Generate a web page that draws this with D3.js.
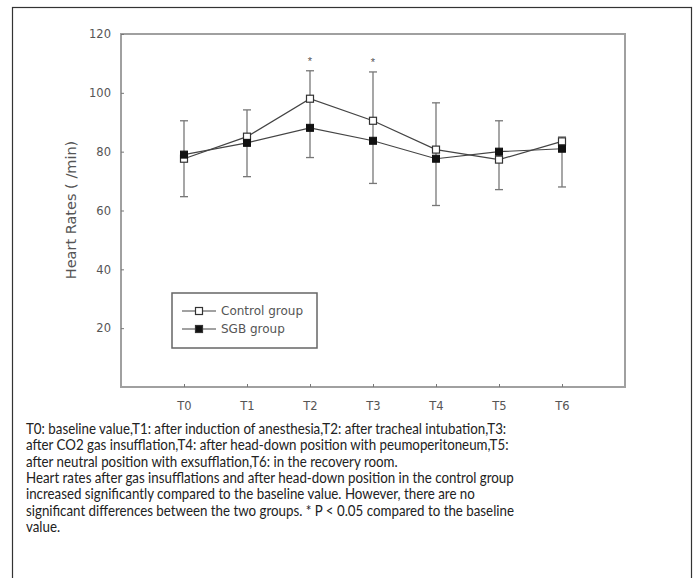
<!DOCTYPE html>
<html lang="en">
<head>
<meta charset="utf-8">
<title>Heart rates</title>
<script src="https://d3js.org/d3.v7.min.js"></script>
<style>
  body { margin: 0; background: #fff; }
  svg { display: block; }
  .tick text { font-family: "DejaVu Sans", sans-serif; font-size: 11.5px; fill: #555; }
  .legend text { font-family: "DejaVu Sans", sans-serif; font-size: 12px; fill: #555; }
  .caption { font-family: Lato, sans-serif; font-size: 14.4px; fill: #222; }
</style>
</head>
<body>
<div id="chart"></div>
<script>
// data
const times = ["T0", "T1", "T2", "T3", "T4", "T5", "T6"];
const control = [77.6, 85.1, 98, 90.5, 80.7, 77.3, 83.5];
const sgb = [79, 83, 88.1, 83.7, 77.6, 80, 81];
const errHigh = [90.5, 94.2, 107.5, 107.1, 96.6, 90.5, 85];
const errLow = [64.7, 71.5, 78, 69.2, 61.7, 67.1, 68];
const starred = ["T2", "T3"];
const yTicks = [20, 40, 60, 80, 100, 120];
const caption = [
  "T0: baseline value,T1: after induction of anesthesia,T2: after tracheal intubation,T3:",
  "after CO2 gas insufflation,T4: after head-down position with peumoperitoneum,T5:",
  "after neutral position with exsufflation,T6: in the recovery room.",
  "Heart rates after gas insufflations and after head-down position in the control group",
  "increased significantly compared to the baseline value. However, there are no",
  "significant differences between the two groups. * P < 0.05 compared to the baseline",
  "value."
];

const w = 697, h = 578;
const svg = d3.select("#chart").append("svg").attr("width", w).attr("height", h);

// outer frame
svg.append("rect")
   .attr("x", 12.5).attr("y", 7.5).attr("width", 679).attr("height", 600)
   .attr("fill", "none").attr("stroke", "#333").attr("stroke-width", 1.2);

const pLeft = 121, pRight = 625, pTop = 34, pBottom = 387;

const x = d3.scaleLinear().domain([-1, 7]).range([pLeft, pRight]);
const y = d3.scaleLinear().domain([0, 120]).range([pBottom, pTop]);

// plot box
svg.append("rect")
   .attr("x", pLeft).attr("y", pTop).attr("width", pRight - pLeft).attr("height", pBottom - pTop)
   .attr("fill", "none").attr("stroke", "#a0a0a0").attr("stroke-width", 2);

// y axis
const yAxis = svg.append("g")
   .attr("transform", `translate(${pLeft},0)`)
   .call(d3.axisLeft(y).tickValues(yTicks).tickSize(-3).tickPadding(10));
yAxis.select(".domain").remove();
yAxis.selectAll(".tick line").attr("stroke", "#777");

// x axis
const xAxis = svg.append("g")
   .attr("transform", `translate(0,${pBottom})`)
   .call(d3.axisBottom(x).tickValues(d3.range(times.length)).tickFormat(i => times[i]).tickSize(-3).tickPadding(15));
xAxis.select(".domain").remove();
xAxis.selectAll(".tick line").attr("stroke", "#777");

svg.append("text")
   .attr("transform", "translate(76,210) rotate(-90)")
   .attr("text-anchor", "middle")
   .style("font-family", "'DejaVu Sans', sans-serif")
   .style("font-size", "14.5px").style("fill", "#555")
   .text("Heart Rates ( /min)");

// error bars
const eb = svg.append("g").attr("stroke", "#777").attr("stroke-width", 1.3);
times.forEach((t, i) => {
  eb.append("line").attr("x1", x(i)).attr("x2", x(i)).attr("y1", y(errHigh[i])).attr("y2", y(errLow[i]));
  [errHigh[i], errLow[i]].forEach(v => {
    eb.append("line").attr("x1", x(i) - 4).attr("x2", x(i) + 4).attr("y1", y(v)).attr("y2", y(v));
  });
});

// lines
const line = d3.line().x((d, i) => x(i)).y(d => y(d));
[control, sgb].forEach(s => {
  svg.append("path").datum(s).attr("d", line)
     .attr("fill", "none").attr("stroke", "#444").attr("stroke-width", 1.2);
});

// markers
const ms = 7;
svg.selectAll(".ctrl").data(control).join("rect")
   .attr("x", (d, i) => x(i) - ms / 2).attr("y", d => y(d) - ms / 2)
   .attr("width", ms).attr("height", ms)
   .attr("fill", "#fff").attr("stroke", "#333").attr("stroke-width", 1.2);
svg.selectAll(".sgb").data(sgb).join("rect")
   .attr("x", (d, i) => x(i) - ms / 2).attr("y", d => y(d) - ms / 2)
   .attr("width", ms).attr("height", ms)
   .attr("fill", "#111").attr("stroke", "#111");

// significance marks
starred.forEach(t => {
  const i = times.indexOf(t);
  svg.append("text").attr("x", x(i)).attr("y", y(errHigh[i]) - 6)
     .attr("text-anchor", "middle")
     .style("font-family", "Arial, sans-serif").style("font-size", "11px").style("fill", "#555")
     .text("*");
});

// legend
const lg = svg.append("g").attr("class", "legend");
lg.append("rect").attr("x", 172).attr("y", 293).attr("width", 145).attr("height", 55)
  .attr("fill", "#fff").attr("stroke", "#666").attr("stroke-width", 1.5);
[["Control group", "#fff"], ["SGB group", "#111"]].forEach((d, k) => {
  const ly = 311 + k * 18;
  lg.append("line").attr("x1", 182).attr("x2", 216).attr("y1", ly).attr("y2", ly)
    .attr("stroke", "#444").attr("stroke-width", 1.2);
  lg.append("rect").attr("x", 199 - 3.5).attr("y", ly - 3.5).attr("width", 7).attr("height", 7)
    .attr("fill", d[1]).attr("stroke", "#333").attr("stroke-width", 1.2);
  lg.append("text").attr("x", 221).attr("y", ly + 4).text(d[0]);
});

// caption (Gill-Sans-like narrow face: squeeze Lato horizontally)
svg.selectAll(".caption").data(caption).join("text")
   .attr("class", "caption")
   .attr("transform", (d, i) => `translate(26,${434 + i * 16.3}) scale(0.925,1)`)
   .text(d => d);
</script>
</body>
</html>
